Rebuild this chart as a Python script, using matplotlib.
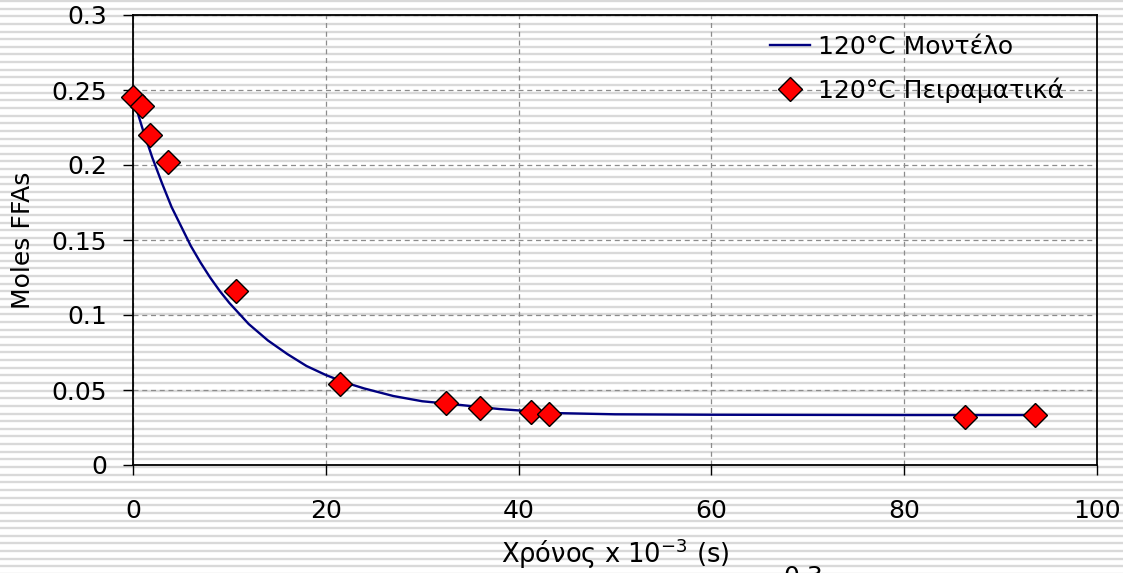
import matplotlib
matplotlib.use("Agg")
import matplotlib.pyplot as plt
from matplotlib.lines import Line2D

# Experimental points at 120 °C (time in 10^3 s, moles of free fatty acids)
exp_time = [0.0, 0.9, 1.8, 3.6, 10.7, 21.5, 32.5, 36.0, 41.3, 43.2, 86.3, 93.6]
exp_ffa = [0.2453, 0.2393, 0.2200, 0.2020, 0.1160, 0.0540, 0.0413, 0.0380,
           0.0353, 0.0342, 0.0322, 0.0333]

# Model curve at 120 °C
model_time = [0, 1, 2, 3, 4, 5, 6, 7, 8, 9, 10, 12, 14, 16, 18, 20, 22, 24,
              27, 30, 34, 38, 44, 50, 60, 70, 80, 94]
model_ffa = [0.245, 0.224, 0.205, 0.188, 0.172, 0.159, 0.146, 0.135, 0.125,
             0.116, 0.108, 0.094, 0.083, 0.074, 0.066, 0.060, 0.055, 0.051,
             0.046, 0.0425, 0.0400, 0.0373, 0.0346, 0.0338, 0.0335, 0.0334,
             0.0333, 0.0333]

x_ticks = [0, 20, 40, 60, 80, 100]
y_ticks = [0, 0.05, 0.1, 0.15, 0.2, 0.25, 0.3]
y_tick_labels = ["0", "0.05", "0.1", "0.15", "0.2", "0.25", "0.3"]

W, H = 1123, 573
fig = plt.figure(figsize=(W / 100, H / 100), dpi=100)
fig.patch.set_facecolor("white")

# Ruled-paper background stripes across the whole figure
bg = fig.add_axes([0, 0, 1, 1], zorder=-5)
bg.set_xlim(0, W)
bg.set_ylim(H, 0)
bg.axis("off")
n_lines = 75
for k in range(n_lines + 1):
    yk = 1.0 + k * H / n_lines
    bg.axhline(yk, color="#d9d9d9", lw=1.7)

left, right, top, bottom = 133, 1097, 15, 465
ax = fig.add_axes([left / W, 1 - bottom / H, (right - left) / W, (bottom - top) / H])
ax.patch.set_alpha(0)

ax.plot(model_time, model_ffa, color="#000080", lw=1.7, zorder=3)
ax.plot(exp_time, exp_ffa, ls="none", marker="D", ms=12, mfc="#ff0000",
        mec="black", mew=1.0, zorder=4, clip_on=False)

ax.set_xlim(0, 100)
ax.set_ylim(0, 0.3)
ax.set_xticks(x_ticks)
ax.set_xticklabels([str(t) for t in x_ticks])
ax.set_yticks(y_ticks)
ax.set_yticklabels(y_tick_labels)

ax.grid(True, color="#8c8c8c", ls=(0, (4, 3)), lw=0.9)
ax.set_axisbelow(True)

for s in ax.spines.values():
    s.set_color("black")
    s.set_linewidth(1.3)

ax.tick_params(axis="both", direction="out", length=7.5, width=1.0,
               labelsize=18, colors="black")
ax.tick_params(axis="x", pad=17)
ax.tick_params(axis="y", pad=11)

ax.set_xlabel("Χρόνος x 10$^{\\mathrm{-3}}$ (s)", fontsize=18.5, labelpad=10)
ax.set_ylabel("Moles FFAs", fontsize=18, labelpad=12)

handles = [
    Line2D([], [], color="#000080", lw=1.7),
    Line2D([], [], ls="none", marker="D", ms=12, mfc="#ff0000", mec="black",
           mew=1.0),
]
ax.legend(handles, ["120°C Μοντέλο", "120°C Πειραματικά"], loc="upper right",
          bbox_to_anchor=(0.987, 1.0), frameon=False, fontsize=18,
          handlelength=1.6, handletextpad=0.35, labelspacing=0.73,
          borderaxespad=0.5, borderpad=0.3)

# Label of the neighbouring chart peeking in at the bottom edge
fig.text(783 / W, 1 - 565 / H, "0.3", fontsize=18, ha="left", va="top")

fig.savefig("out.png", dpi=100)
